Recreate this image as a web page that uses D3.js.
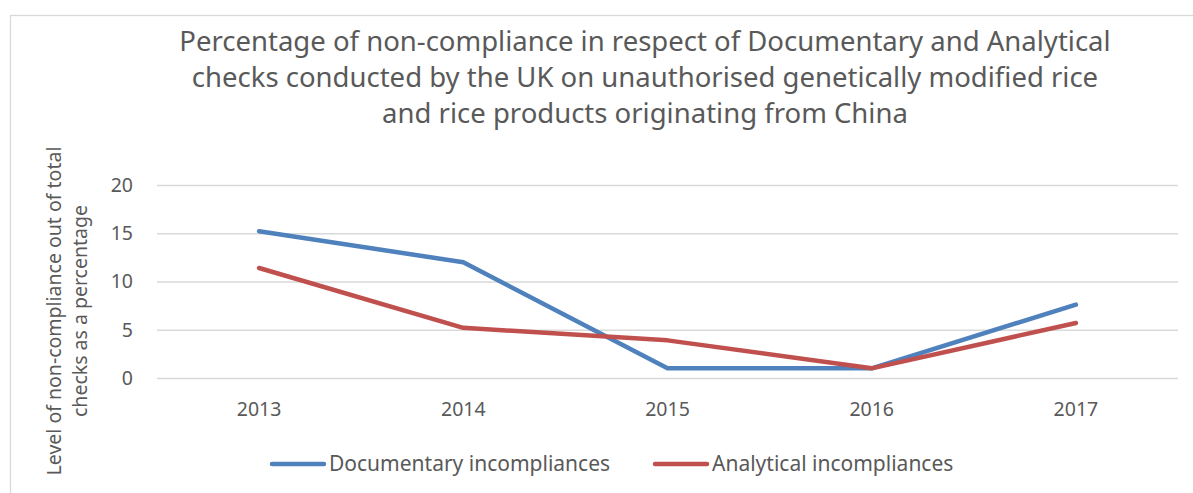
<!DOCTYPE html>
<html>
<head>
<meta charset="utf-8">
<script src="https://d3js.org/d3.v7.min.js"></script>
<style>
  html, body { margin: 0; padding: 0; background: #fff; }
  text { font-family: "Noto Sans", sans-serif; fill: #595959; }
</style>
</head>
<body>
<div id="chart"></div>
<script>
// data
var years = ["2013", "2014", "2015", "2016", "2017"];
var documentary = [15.2, 12.0, 1.0, 1.0, 7.6];
var analytical = [11.4, 5.2, 3.9, 1.0, 5.7];
var yTicks = [0, 5, 10, 15, 20];
var titleLines = [
    "Percentage of non-compliance in respect of Documentary and Analytical",
    "checks conducted by the UK on unauthorised genetically modified rice",
    "and rice products originating from China"
];
var yTitleLines = ["Level of non-compliance out of total", "checks as a percentage"];
var seriesNames = ["Documentary incompliances", "Analytical incompliances"];
var seriesColors = ["#4f81bd", "#c0504d"];

var width = 1193, height = 493;
var margin = {left: 157, right: 15, top: 185, bottom: 115};

var svg = d3.select("#chart").append("svg")
    .attr("width", width)
    .attr("height", height)
    .style("background-color", "white");

// chart frame (cropped at right and bottom in the reference)
svg.append("rect")
    .attr("x", 10.5)
    .attr("y", 15.5)
    .attr("width", width + 20)
    .attr("height", height + 20)
    .attr("fill", "none")
    .attr("stroke", "#d9d9d9")
    .attr("stroke-width", 1.3);

var x = d3.scaleBand()
    .domain(years)
    .range([margin.left, width - margin.right])
    .padding(0);

var y = d3.scaleLinear()
    .domain([0, 20])
    .range([height - margin.bottom, margin.top]);

// gridlines
svg.append("g")
    .attr("class", "grid")
    .attr("transform", "translate(" + margin.left + ",0)")
    .call(d3.axisLeft(y).tickValues(yTicks).tickSize(-(width - margin.right - margin.left)).tickFormat(""))
    .call(function(g) { g.select(".domain").remove(); })
    .call(function(g) {
        g.selectAll("line").attr("stroke", "#d9d9d9").attr("stroke-width", 1.5);
    });

// y tick labels
svg.append("g")
    .attr("class", "y-axis")
    .attr("transform", "translate(" + (margin.left - 24) + ",0)")
    .call(d3.axisLeft(y).tickValues(yTicks).tickSize(0).tickPadding(0))
    .call(function(g) { g.select(".domain").remove(); })
    .call(function(g) {
        g.selectAll("text")
            .style("font-family", "'Noto Sans', sans-serif")
            .style("font-size", "19.5px")
            .attr("fill", "#595959");
    });

// x tick labels
svg.append("g")
    .attr("class", "x-axis")
    .attr("transform", "translate(0," + (height - margin.bottom) + ")")
    .call(d3.axisBottom(x).tickSize(0).tickPadding(24))
    .call(function(g) { g.select(".domain").remove(); })
    .call(function(g) {
        g.selectAll("text")
            .style("font-family", "'Noto Sans', sans-serif")
            .style("font-size", "19.5px")
            .attr("fill", "#595959");
    });

// lines
var line = d3.line()
    .x(function(d, i) { return x(years[i]) + x.bandwidth() / 2; })
    .y(function(d) { return y(d); });

[documentary, analytical].forEach(function(vals, i) {
    svg.append("path")
        .datum(vals)
        .attr("d", line)
        .attr("fill", "none")
        .attr("stroke", seriesColors[i])
        .attr("stroke-width", 4.5)
        .attr("stroke-linejoin", "round")
        .attr("stroke-linecap", "round");
});

// title
svg.append("text")
    .attr("text-anchor", "middle")
    .style("font-size", "27.5px")
    .selectAll("tspan")
    .data(titleLines)
    .enter()
    .append("tspan")
    .attr("x", 645)
    .attr("y", function(d, i) { return 51 + i * 36; })
    .text(function(d) { return d; });

// y axis title
svg.append("text")
    .attr("transform", "translate(0,311) rotate(-90)")
    .attr("text-anchor", "middle")
    .style("font-size", "19.5px")
    .selectAll("tspan")
    .data(yTitleLines)
    .enter()
    .append("tspan")
    .attr("x", 0)
    .attr("y", function(d, i) { return 61 + i * 26; })
    .text(function(d) { return d; });

// legend
var legendX = [272, 655];
var legend = svg.append("g").attr("class", "legend");
seriesNames.forEach(function(name, i) {
    legend.append("line")
        .attr("x1", legendX[i])
        .attr("x2", legendX[i] + 52)
        .attr("y1", 464)
        .attr("y2", 464)
        .attr("stroke", seriesColors[i])
        .attr("stroke-width", 4.5)
        .attr("stroke-linecap", "round");
    legend.append("text")
        .attr("x", legendX[i] + 57)
        .attr("y", 471)
        .style("font-size", "21px")
        .text(name);
});
</script>
</body>
</html>
